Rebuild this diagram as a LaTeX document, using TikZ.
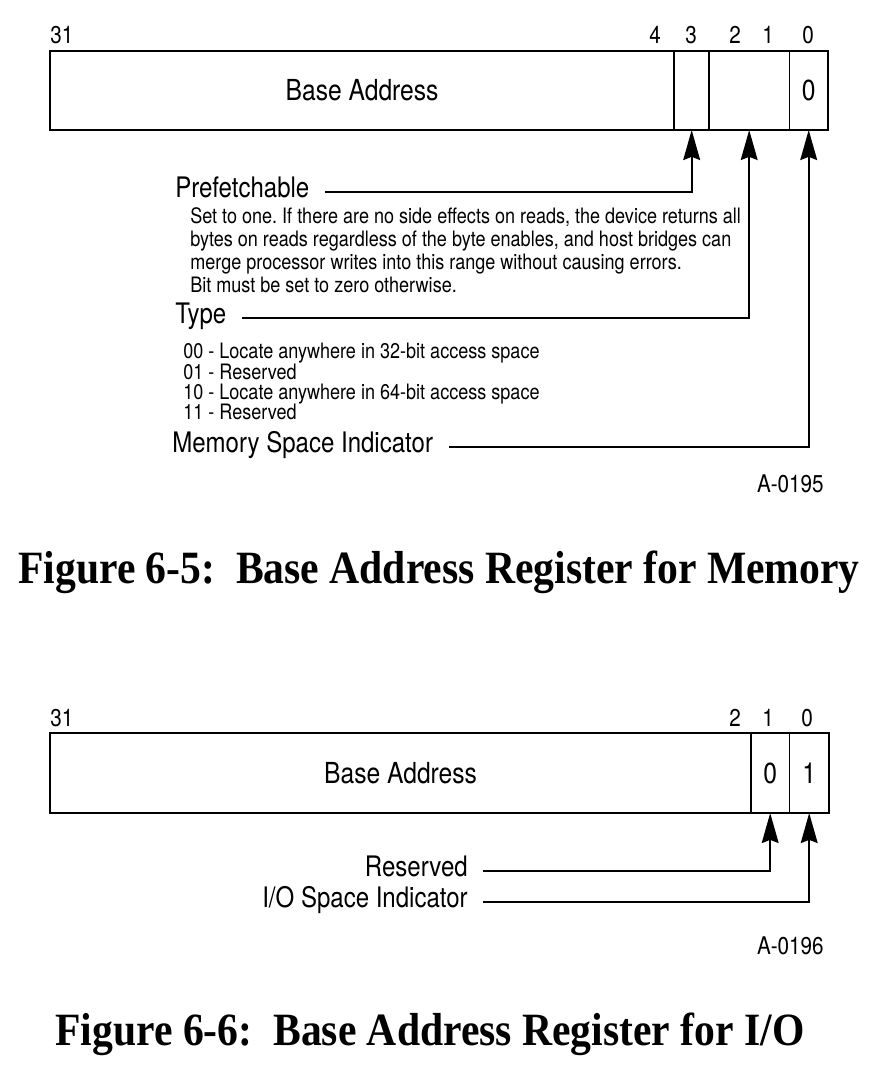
\documentclass[tikz,border=0pt]{standalone}
\usepackage{fontspec}
\setmainfont{TeX Gyre Heros}[FakeStretch=0.85]
\newfontfamily\capfont{Liberation Serif}[FakeStretch=0.9]
\usetikzlibrary{arrows.meta,positioning}
\frenchspacing

\tikzset{
  field/.style={draw,line width=1pt,inner sep=0pt,outer sep=0pt,
    font=\fontsize{20.6}{24}\selectfont},
  frame/.style={line width=1.6pt},
  bitno/.style={anchor=base,inner sep=0pt,font=\fontsize{17.3}{20}\selectfont},
  lbl/.style={inner sep=0pt,text height=0.72em,text depth=0pt,
    font=\fontsize{20.1}{24}\selectfont},
  note/.style={inner sep=0pt,align=left,font=\fontsize{15.1}{16.4}\selectfont},
  arr/.style={-{Stealth[length=0.75cm,width=0.42cm,inset=0.08cm]},
    line width=1.4pt,shorten <=11pt},
  figno/.style={inner sep=0pt,anchor=base east,font=\fontsize{17.3}{20}\selectfont},
  caption/.style={inner sep=0pt,anchor=base,
    font=\capfont\bfseries\fontsize{32.9}{38}\selectfont},
}

\begin{document}
\begin{tikzpicture}[x=0.025cm,y=-0.025cm]
\useasboundingbox (0,0) rectangle (878,1076);

% Figure 6-5: memory BAR
\node[field,minimum width=15.6cm,minimum height=1.975cm,anchor=north west] (base) at (50,51) {Base Address};
\node[field,minimum width=0.875cm,minimum height=1.975cm,right=0pt of base] (b3) {};
\node[field,minimum width=2cm,minimum height=1.975cm,right=0pt of b3] (b21) {};
\node[field,minimum width=0.975cm,minimum height=1.975cm,right=0pt of b21] (b0) {0};
\draw[frame] (base.north west) rectangle (b0.south east);

\node[bitno,anchor=base west] (n31) at (50,44) {31};
\node[bitno] (n4) at (655,44) {4};
\node[bitno] (n3) at (691,44) {3};
\node[bitno] (n2) at (735,44) {2};
\node[bitno] (n1) at (768,44) {1};
\node[bitno] (n0) at (808,44) {0};

\node[lbl,anchor=west] (pf) at (175,192) {Prefetchable};
\node[note,anchor=north west] (pfnote) at (190,207) {Set to one. If there are no side effects on reads, the device returns all\\
bytes on reads regardless of the byte enables, and host bridges can\\
merge processor writes into this range without causing errors.\\
Bit must be set to zero otherwise.};
\node[lbl,anchor=west] (ty) at (175,318) {Type};
\node[note,anchor=north west,font=\fontsize{15.1}{14.5}\selectfont] (tynote) at (183,343) {00 - Locate anywhere in 32-bit access space\\
01 - Reserved\\
10 - Locate anywhere in 64-bit access space\\
11 - Reserved};
\node[lbl,anchor=west] (msi) at (172,447) {Memory Space Indicator};

\draw[arr] (pf.east) -| (b3.south);
\draw[arr] (ty.east) -| (b21.south);
\draw[arr] (msi.east) -| (b0.south);

\node[figno] (fig1) at (824,492) {A-0195};
\node[caption] (cap1) at (439,583) {Figure 6-5:\ \ Base Address Register for Memory};

% Figure 6-6: I/O BAR
\node[field,minimum width=17.525cm,minimum height=2cm,anchor=north west] (iobase) at (50,733) {Base Address};
\node[field,minimum width=0.95cm,minimum height=2cm,right=0pt of iobase] (iob1) {0};
\node[field,minimum width=1cm,minimum height=2cm,right=0pt of iob1] (iob0) {1};
\draw[frame] (iobase.north west) rectangle (iob0.south east);

\node[bitno,anchor=base west] (m31) at (50,726) {31};
\node[bitno] (m2) at (735,726) {2};
\node[bitno] (m1) at (768,726) {1};
\node[bitno] (m0) at (807,726) {0};

\node[lbl,anchor=east] (rsv) at (468,871) {Reserved};
\node[lbl,anchor=east] (iosi) at (468,902) {I/O Space Indicator};

\draw[arr] (rsv.east) -| (iob1.south);
\draw[arr] (iosi.east) -| (iob0.south);

\node[figno] (fig2) at (824,954) {A-0196};
\node[caption] (cap2) at (430,1045) {Figure 6-6:\ \ Base Address Register for I/O};
\end{tikzpicture}
\end{document}
